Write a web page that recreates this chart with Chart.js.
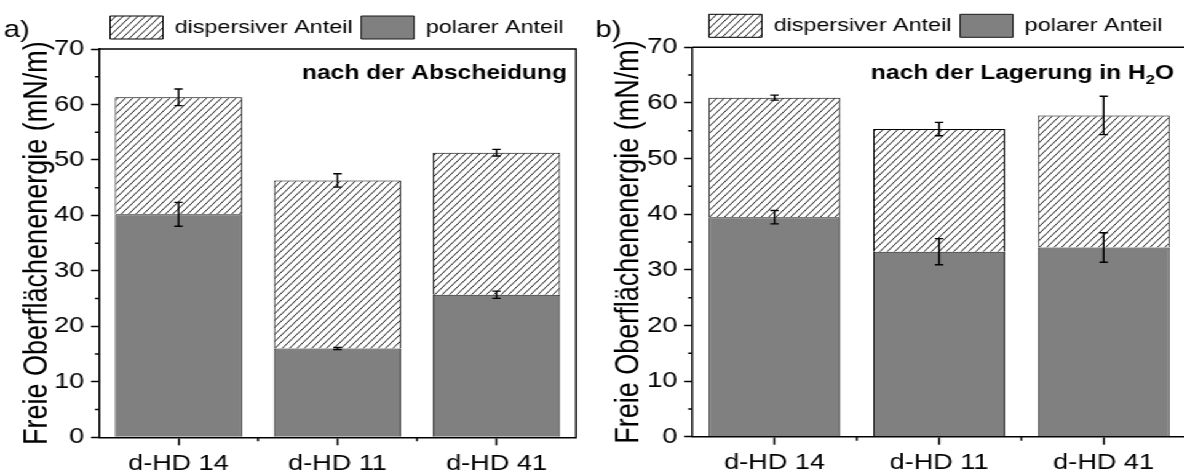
<!DOCTYPE html>
<html>
<head>
<meta charset="utf-8">
<script src="https://cdn.jsdelivr.net/npm/chart.js@4"></script>
<style>
  html, body { margin: 0; padding: 0; background: #fff; overflow: hidden; }
  #stage { position: relative; width: 1184px; height: 475px; overflow: hidden; }
  /* the figure is drawn narrow and stretched sideways, like the exported plot */
  #wrap { position: absolute; left: 0; top: 0; width: 970px; height: 475px;
          transform: scaleX(1.23); transform-origin: 0 0; }
  canvas { position: absolute; top: 0; }
  #chartA { left: 0; }
  #chartB { left: 481px; }
</style>
</head>
<body>
<div id="stage"><div id="wrap">
  <canvas id="chartA" width="481" height="475"></canvas>
  <canvas id="chartB" width="489" height="475"></canvas>
</div></div>
<script>
const categories = ["d-HD 14", "d-HD 11", "d-HD 41"];
const yMin = 0, yMax = 70, yStep = 10;

// a) nach der Abscheidung
const polarA = [40.2, 16.0, 25.7];
const polarErrA = [2.15, 0.2, 0.65];
const dispA = [21.1, 30.3, 25.6];
const totalErrA = [1.5, 1.2, 0.6];

// b) nach der Lagerung in H2O
const polarB = [39.45, 33.25, 34.0];
const polarErrB = [1.2, 2.35, 2.65];
const dispB = [21.5, 22.05, 23.75];
const totalErrB = [0.45, 1.2, 3.45];

Chart.defaults.font.family = "'Liberation Sans', Arial, sans-serif";
Chart.defaults.color = "#000";

function makeHatch() {
  const c = document.createElement("canvas");
  c.width = 6; c.height = 7;
  const g = c.getContext("2d");
  g.fillStyle = "#fff";
  g.fillRect(0, 0, 6, 7);
  g.strokeStyle = "#000";
  g.lineWidth = 0.9;
  g.beginPath();
  for (const dx of [-6, 0, 6]) {
    g.moveTo(dx - 6, 14);
    g.lineTo(dx + 12, -7);
  }
  g.stroke();
  return g.createPattern(c, "repeat");
}
const hatch = makeHatch();

function errBar(ctx, cx, y, v, e, half) {
  const t = y.getPixelForValue(v + e), b = y.getPixelForValue(v - e);
  ctx.beginPath();
  ctx.moveTo(cx, t); ctx.lineTo(cx, b);
  ctx.moveTo(cx - half, t); ctx.lineTo(cx + half, t);
  ctx.moveTo(cx - half, b); ctx.lineTo(cx + half, b);
  ctx.stroke();
}

const panelDecor = {
  id: "panelDecor",
  afterLayout(chart, args, o) {
    chart.legend.left += o.legendShift;
    chart.legend.right += o.legendShift;
  },
  afterDatasetsDraw(chart, args, o) {
    const { ctx, scales: { x, y } } = chart;
    ctx.save();
    ctx.strokeStyle = "#000";
    ctx.lineWidth = 1.4;
    o.polar.forEach((p, i) => {
      const cx = x.getPixelForValue(i);
      errBar(ctx, cx, y, p, o.polarErr[i], 3.4);
      errBar(ctx, cx, y, p + o.disp[i], o.totalErr[i], 3.4);
    });
    ctx.restore();
  },
  afterDraw(chart, args, o) {
    const { ctx, chartArea: a, scales: { x, y } } = chart;
    ctx.save();
    ctx.strokeStyle = "#000";
    ctx.lineWidth = 1.5;
    // frame top and right
    ctx.beginPath();
    ctx.moveTo(a.left, a.top); ctx.lineTo(a.right, a.top); ctx.lineTo(a.right, a.bottom);
    // minor ticks
    for (let v = yMin + yStep / 2; v < yMax; v += yStep) {
      const py = y.getPixelForValue(v);
      ctx.moveTo(a.left - 3.3, py); ctx.lineTo(a.left, py);
    }
    for (let i = 0; i < categories.length - 1; i++) {
      const px = (x.getPixelForValue(i) + x.getPixelForValue(i + 1)) / 2;
      ctx.moveTo(px, a.bottom); ctx.lineTo(px, a.bottom + 4);
    }
    ctx.stroke();

    ctx.fillStyle = "#000";
    // panel letter
    ctx.font = "24px 'Liberation Sans', Arial, sans-serif";
    ctx.textAlign = "left";
    ctx.textBaseline = "alphabetic";
    ctx.fillText(o.letter, 3, 37);

    // y axis title (drawn here so it is not squeezed to the axis height)
    ctx.save();
    ctx.translate(y.left + 20, (a.top + a.bottom) / 2);
    ctx.rotate(-Math.PI / 2);
    ctx.font = "27px 'Liberation Sans', Arial, sans-serif";
    ctx.textAlign = "center";
    ctx.textBaseline = "middle";
    ctx.fillText("Freie Oberflächenenergie (mN/m)", 0, 0);
    ctx.restore();

    // panel note, right aligned, with optional subscripts
    const big = "bold 20px 'Liberation Sans', Arial, sans-serif";
    const small = "bold 13.5px 'Liberation Sans', Arial, sans-serif";
    let w = 0;
    o.note.forEach(s => { ctx.font = s.sub ? small : big; w += ctx.measureText(s.t).width; });
    let cx = a.right - o.noteRight - w;
    o.note.forEach(s => {
      ctx.font = s.sub ? small : big;
      ctx.fillText(s.t, cx, s.sub ? 84 : 79);
      cx += ctx.measureText(s.t).width;
    });
    ctx.restore();
  }
};

function makePanel(id, p) {
  return new Chart(document.getElementById(id), {
    type: "bar",
    data: {
      labels: categories,
      datasets: [
        {
          label: "polarer Anteil",
          data: p.polar,
          backgroundColor: "#808080",
          borderColor: "#1a1a1a",
          borderWidth: 1,
          barPercentage: 0.8,
          categoryPercentage: 1.0,
        },
        {
          label: "dispersiver Anteil",
          data: p.disp,
          backgroundColor: hatch,
          borderColor: "#000",
          borderWidth: 1,
          barPercentage: 0.8,
          categoryPercentage: 1.0,
        },
      ],
    },
    options: {
      responsive: false,
      animation: false,
      devicePixelRatio: 1,
      layout: { padding: { left: 11, right: p.padRight, top: p.padTop, bottom: 0 } },
      plugins: {
        legend: {
          position: "top",
          align: "start",
          fullSize: false,
          reverse: true,
          labels: { boxWidth: 43, boxHeight: 23, padding: 7, font: { size: 19 } },
        },
        tooltip: { enabled: false },
        panelDecor: p,
      },
      scales: {
        x: {
          stacked: true,
          grid: { offset: false, drawOnChartArea: false, tickLength: 8, tickWidth: 1.5, tickColor: "#000" },
          border: { color: "#000", width: 1.5 },
          ticks: { font: { size: 22 }, padding: 5 },
          afterFit: s => { s.height = 475 - p.plotBottom; },
        },
        y: {
          stacked: true,
          min: yMin,
          max: yMax,
          grid: { drawOnChartArea: false, tickLength: 6.5, tickWidth: 1.5, tickColor: "#000" },
          border: { color: "#000", width: 1.5 },
          ticks: { stepSize: yStep, font: { size: 22 }, padding: 5.5 },
          afterFit: s => { s.width = p.plotLeft - 11; },
        },
      },
    },
    plugins: [panelDecor],
  });
}

makePanel("chartA", {
  polar: polarA, polarErr: polarErrA, disp: dispA, totalErr: totalErrA,
  letter: "a)",
  note: [{ t: "nach der Abscheidung" }],
  noteRight: 7.3,
  plotLeft: 80.5, plotBottom: 437.3, padRight: 12.7, padTop: 9,
  legendShift: 2,
});

makePanel("chartB", {
  polar: polarB, polarErr: polarErrB, disp: dispB, totalErr: totalErrB,
  letter: "b)",
  note: [{ t: "nach der Lagerung in H" }, { t: "2", sub: true }, { t: "O" }],
  noteRight: 9.7,
  plotLeft: 81.8, plotBottom: 436.7, padRight: 5.8, padTop: 7.3,
  legendShift: 6.6,
});
</script>
</body>
</html>
